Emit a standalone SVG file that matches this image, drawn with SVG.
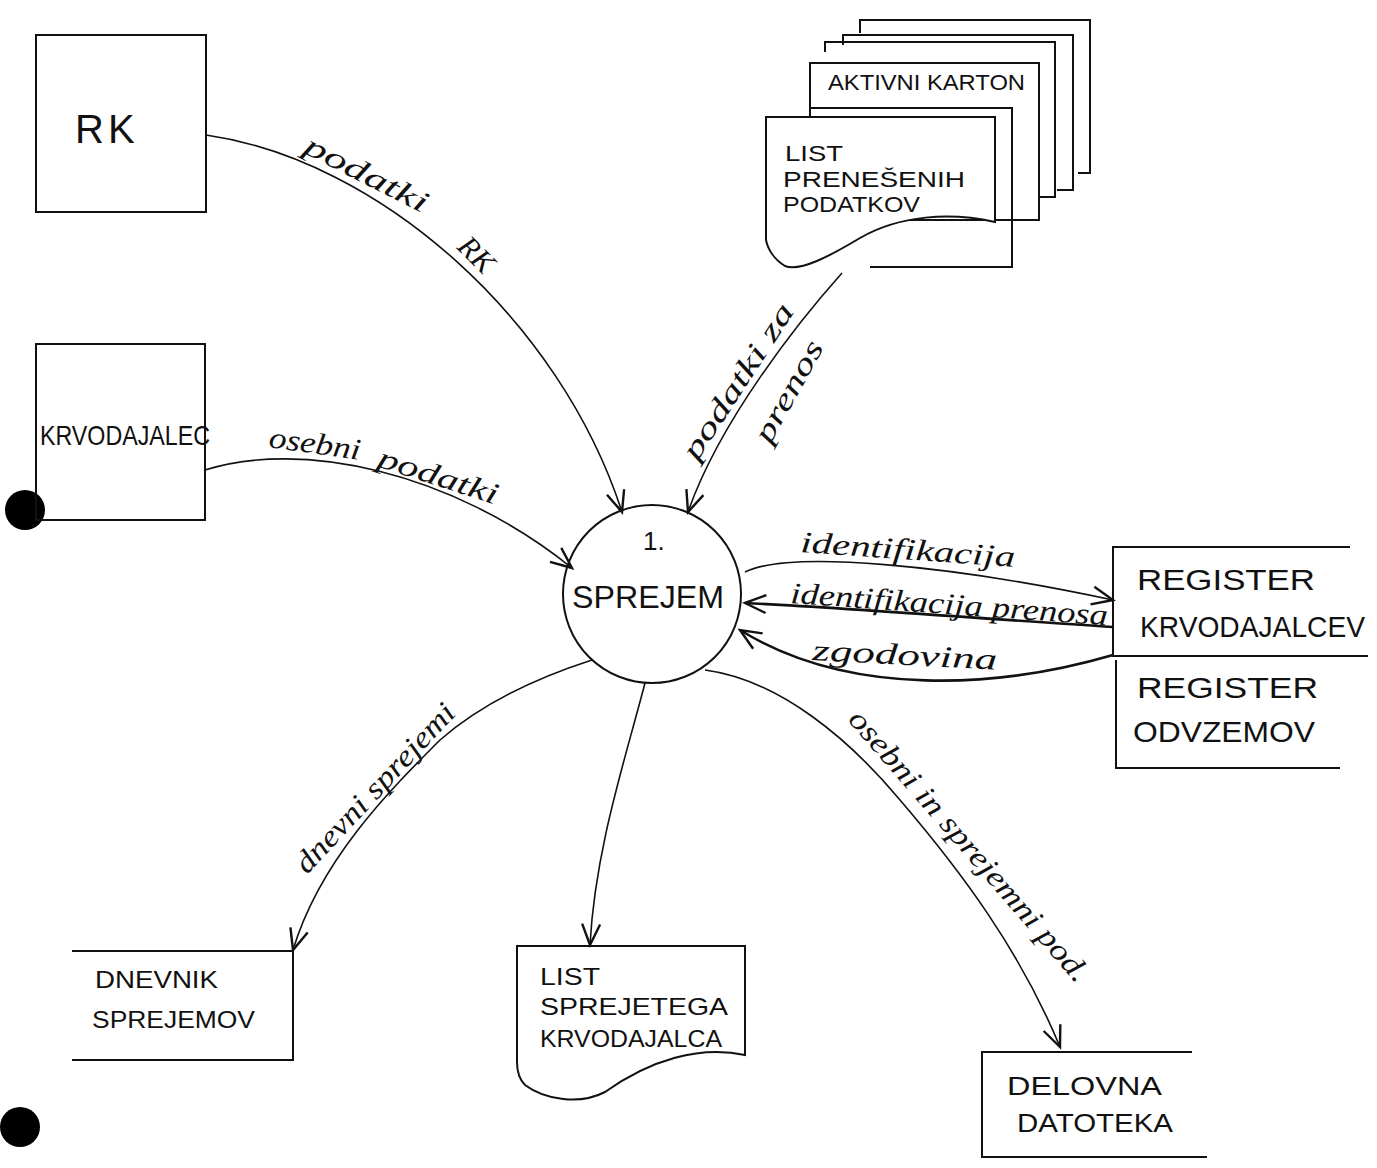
<svg xmlns="http://www.w3.org/2000/svg" width="1377" height="1168" viewBox="0 0 1377 1168">
<style>
.box{fill:none;stroke:#111;stroke-width:2}
.doc{fill:#fff;stroke:#111;stroke-width:2}
.t{font-family:"Liberation Sans",Arial,sans-serif;fill:#111}
.lbl{font-family:"Liberation Serif","Times New Roman",serif;font-style:italic;fill:#111;font-size:30px}
.c{fill:none;stroke:#111;stroke-width:1.6}
.cb{fill:none;stroke:#111;stroke-width:2.6}
</style>
<defs>
<marker id="arr" markerUnits="userSpaceOnUse" markerWidth="26" markerHeight="22" refX="23" refY="11" orient="auto">
<path d="M2,2 L23,11 L2,20" fill="none" stroke="#111" stroke-width="2.4"/>
</marker>
</defs>
<rect width="1377" height="1168" fill="#fff"/>

<g id="dots">
<circle cx="25" cy="510" r="20" fill="#000"/>
<circle cx="20" cy="1127" r="20" fill="#000"/>
</g>

<g id="node-rk">
<rect class="box" x="36" y="35" width="170" height="177"/>
<text class="t" x="75" y="143" font-size="40" letter-spacing="4">RK</text>
</g>

<g id="node-krvodajalec">
<rect class="box" x="36" y="344" width="169" height="176"/>
<text class="t" x="40" y="445" font-size="28" textLength="170" lengthAdjust="spacingAndGlyphs">KRVODAJALEC</text>
</g>

<g id="node-sprejem">
<circle class="box" cx="652" cy="594" r="89"/>
<text class="t" x="643" y="550" font-size="26">1.</text>
<text class="t" x="572" y="608" font-size="32" textLength="152" lengthAdjust="spacingAndGlyphs">SPREJEM</text>
</g>

<g id="node-aktivni-karton">
<path class="box" d="M860,33 V20 H1090 V173 H1078"/>
<path class="box" d="M843,45 V35 H1073 V190 H1057"/>
<path class="box" d="M825,52 V42 H1055 V197 H1039"/>
<rect class="doc" x="810" y="63" width="229" height="157"/>
<text class="t" x="828" y="90" font-size="22" textLength="197" lengthAdjust="spacingAndGlyphs">AKTIVNI KARTON</text>
<path class="box" d="M810,108 H1012 V267 H870"/>
<path class="doc" d="M766,117 H995 V222 C950,212 900,215 860,238 C830,256 800,272 785,266 C775,260 768,250 766,240 Z"/>
<text class="t" x="785" y="161" font-size="22" textLength="58" lengthAdjust="spacingAndGlyphs">LIST</text>
<text class="t" x="783" y="187" font-size="22" textLength="182" lengthAdjust="spacingAndGlyphs">PRENEŠENIH</text>
<text class="t" x="783" y="212" font-size="22" textLength="137" lengthAdjust="spacingAndGlyphs">PODATKOV</text>
</g>

<g id="node-register">
<path class="box" d="M1350,547 H1113 V656 H1368"/>
<path class="box" d="M1116,660 V768 H1340"/>
<text class="t" x="1137" y="590" font-size="30" textLength="178" lengthAdjust="spacingAndGlyphs">REGISTER</text>
<text class="t" x="1140" y="637" font-size="30" textLength="225" lengthAdjust="spacingAndGlyphs">KRVODAJALCEV</text>
<text class="t" x="1137" y="698" font-size="30" textLength="181" lengthAdjust="spacingAndGlyphs">REGISTER</text>
<text class="t" x="1133" y="742" font-size="30" textLength="182" lengthAdjust="spacingAndGlyphs">ODVZEMOV</text>
</g>

<g id="node-dnevnik">
<path class="box" d="M72,951 H293 V1060 H72"/>
<text class="t" x="95" y="988" font-size="24" textLength="123" lengthAdjust="spacingAndGlyphs">DNEVNIK</text>
<text class="t" x="92" y="1028" font-size="24" textLength="163" lengthAdjust="spacingAndGlyphs">SPREJEMOV</text>
</g>

<g id="node-list-sprejetega">
<path class="doc" d="M517,946 H745 V1055 C700,1045 650,1060 605,1092 C580,1105 545,1100 525,1085 C518,1078 517,1070 517,1062 Z"/>
<text class="t" x="540" y="985" font-size="24" textLength="60" lengthAdjust="spacingAndGlyphs">LIST</text>
<text class="t" x="540" y="1015" font-size="24" textLength="188" lengthAdjust="spacingAndGlyphs">SPREJETEGA</text>
<text class="t" x="540" y="1047" font-size="24" textLength="182" lengthAdjust="spacingAndGlyphs">KRVODAJALCA</text>
</g>

<g id="node-delovna">
<path class="box" d="M1192,1052 H982 V1157 H1207"/>
<text class="t" x="1007" y="1095" font-size="26" textLength="155" lengthAdjust="spacingAndGlyphs">DELOVNA</text>
<text class="t" x="1017" y="1132" font-size="26" textLength="156" lengthAdjust="spacingAndGlyphs">DATOTEKA</text>
</g>

<g id="connectors">
<path class="c" d="M206,135 C380,160 560,320 622,512" marker-end="url(#arr)"/>
<path class="c" d="M205,470 C300,440 450,470 572,568" marker-end="url(#arr)"/>
<path class="c" d="M842,273 C800,320 720,420 688,512" marker-end="url(#arr)"/>
<path class="c" d="M745,572 C790,550 950,565 1113,600" marker-end="url(#arr)"/>
<path class="cb" d="M1113,627 C1000,620 850,608 745,603" marker-end="url(#arr)"/>
<path class="cb" d="M1113,655 C1000,688 850,698 740,630" marker-end="url(#arr)"/>
<path class="c" d="M592,660 C530,680 480,705 440,740 C390,790 320,860 293,950" marker-end="url(#arr)"/>
<path class="c" d="M645,683 C625,760 595,850 590,945" marker-end="url(#arr)"/>
<path class="c" d="M705,670 C780,680 850,740 900,800 C960,870 1020,950 1060,1047" marker-end="url(#arr)"/>
</g>

<g id="labels">
<text class="lbl" transform="translate(302,152) rotate(27)" textLength="135" lengthAdjust="spacingAndGlyphs">podatki</text>
<text class="lbl" transform="translate(456,248) rotate(45)">RK</text>
<text class="lbl" transform="translate(268,447) rotate(8)" font-size="28" textLength="92" lengthAdjust="spacingAndGlyphs">osebni</text>
<text class="lbl" transform="translate(376,466) rotate(18)" textLength="125" lengthAdjust="spacingAndGlyphs">podatki</text>
<text class="lbl" transform="translate(697,462) rotate(-57)" textLength="180" lengthAdjust="spacingAndGlyphs">podatki za</text>
<text class="lbl" transform="translate(770,445) rotate(-61)" textLength="112" lengthAdjust="spacingAndGlyphs">prenos</text>
<text class="lbl" transform="translate(800,552) rotate(4)" textLength="215" lengthAdjust="spacingAndGlyphs">identifikacija</text>
<text class="lbl" transform="translate(790,603) rotate(4)" textLength="318" lengthAdjust="spacingAndGlyphs">identifikacija prenosa</text>
<text class="lbl" transform="translate(812,660) rotate(3)" font-size="32" textLength="185" lengthAdjust="spacingAndGlyphs">zgodovina</text>
<text class="lbl" transform="translate(307,875) rotate(-47)" font-size="28" textLength="220" lengthAdjust="spacingAndGlyphs">dnevni sprejemi</text>
<text class="lbl" transform="translate(847,720) rotate(49)" font-size="28" textLength="350" lengthAdjust="spacingAndGlyphs">osebni in sprejemni pod.</text>
</g>
</svg>
